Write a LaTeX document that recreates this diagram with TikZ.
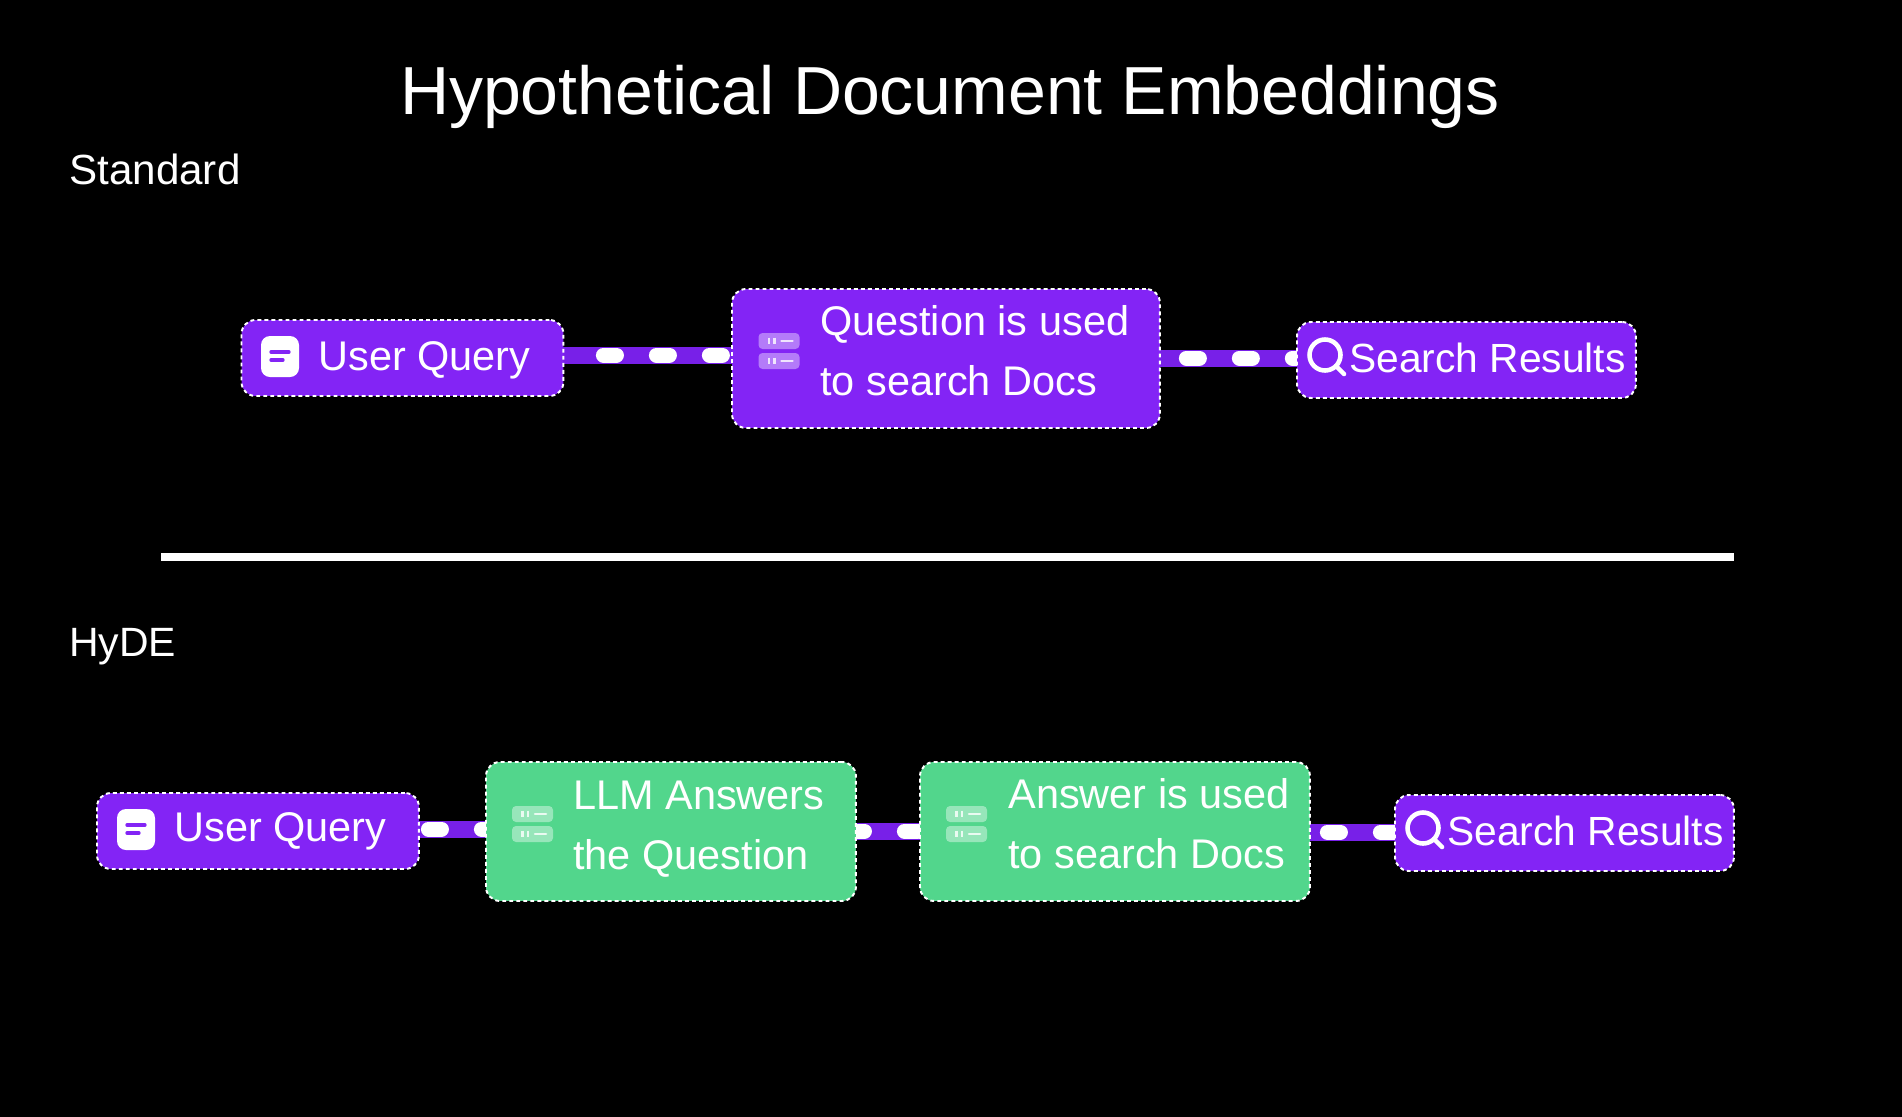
\documentclass[tikz,border=0pt]{standalone}
\usepackage{fontspec}
\setmainfont{Liberation Sans}
\definecolor{hydepurple}{RGB}{131,36,245}
\definecolor{hydebar}{RGB}{120,32,232}
\definecolor{hydegreen}{RGB}{82,214,140}
\usetikzlibrary{backgrounds,calc}
\tikzset{
  box/.style={draw=white,line width=1.1pt,dash pattern=on 2.2pt off 1.8pt,rounded corners=0.28cm,inner sep=0pt,outer sep=0pt,anchor=north west},
  purplebox/.style={box,fill=hydepurple},
  greenbox/.style={box,fill=hydegreen},
  boxtext/.style={text=white,anchor=west,align=left,inner sep=0pt,font=\fontsize{23.6}{34}\selectfont},
  headtext/.style={text=white,anchor=west,inner sep=0pt,font=\fontsize{24}{28}\selectfont},
  flowbar/.style={draw=hydebar,line width=9.67pt},
  flowdash/.style={draw=white,line width=8.54pt,line cap=round,dash pattern=on 7.4pt off 22.76pt},
  pics/docicon/.style={code={
    \fill[white,rounded corners=0.18cm] (0,0) rectangle (38,41);
    \draw[hydepurple,line width=1.9pt,line cap=round] (10,16) -- (28,16);
    \draw[hydepurple,line width=1.9pt,line cap=round] (10,24) -- (22,24);
  }},
  pics/srvicon/.style={code={
    \foreach \yy in {0,20}{
      \fill[white,opacity=0.4,rounded corners=0.08cm] (0,\yy) rectangle (41,\yy+16);
      \draw[white,opacity=0.8,line width=1.5pt] (10.5,\yy+4.5) -- (10.5,\yy+11) (16,\yy+4.5) -- (16,\yy+11);
      \draw[white,opacity=0.8,line width=1.5pt,line cap=round] (23,\yy+8) -- (34,\yy+8);
    }
  }},
  pics/lensicon/.style={code={
    \draw[white,line width=2.6pt] (0,0) circle (0.31cm);
    \draw[white,line width=2.6pt,line cap=round] (11,11) -- (19,19);
  }},
}

\begin{document}
\begin{tikzpicture}[x=0.02cm,y=-0.02cm]
  \useasboundingbox (0,0) rectangle (1902,1116);
  % titles
  \node[text=white,inner sep=0pt,font=\fontsize{38.7}{48}\selectfont] (title) at (950,97) {Hypothetical Document Embeddings};
  \node[headtext] (standard) at (69,169) {Standard};
  \node[headtext,font=\fontsize{23.3}{28}\selectfont] (hyde) at (69,647) {HyDE};
  % standard row
  \node[purplebox,minimum width=6.44cm,minimum height=1.52cm] (query) at (241.5,320) {};
  \node[purplebox,minimum width=8.56cm,minimum height=2.78cm] (docs) at (732,289) {};
  \node[purplebox,minimum width=6.78cm,minimum height=1.52cm] (results) at (1297,322) {};
  \node[boxtext] (querytext) at (318,360) {User Query};
  \node[boxtext] (docstext) at (820,351) {Question is used\\to search Docs};
  \node[boxtext,font=\fontsize{23.2}{34}\selectfont] (resultstext) at (1349,358) {Search Results};
  \pic at (261,336) {docicon};
  \pic at (758.5,333) {srvicon};
  \pic at (1325,355) {lensicon};
  % divider
  \coordinate (divl) at (161,557);
  \coordinate (divr) at (1734,557);
  \draw[white,line width=4pt] (divl) -- (divr);
  % hyde row
  \node[purplebox,minimum width=6.44cm,minimum height=1.52cm] (hquery) at (97,793) {};
  \node[greenbox,minimum width=7.4cm,minimum height=2.78cm] (answer) at (486,762) {};
  \node[greenbox,minimum width=7.8cm,minimum height=2.78cm] (hdocs) at (920,762) {};
  \node[purplebox,minimum width=6.78cm,minimum height=1.52cm] (hresults) at (1395,795) {};
  \node[boxtext] (hquerytext) at (174,831) {User Query};
  \node[boxtext] (answertext) at (573,829) {LLM Answers\\the Question};
  \node[boxtext] (hdocstext) at (1008,824) {Answer is used\\to search Docs};
  \node[boxtext,font=\fontsize{23.2}{34}\selectfont] (hresultstext) at (1447,831) {Search Results};
  \pic at (117,809) {docicon};
  \pic at (512,806) {srvicon};
  \pic at (946,806) {srvicon};
  \pic at (1423,828) {lensicon};
  % connectors
  \begin{scope}[on background layer]
    \fill[black] (-10,-10) rectangle (1912,1126);
    \foreach \a/\b/\yy/\ph in {query/docs/355/7.4,docs/results/358/15.1,hquery/answer/829/24.75,answer/hdocs/831/2.56,hdocs/hresults/832/20.2}{
      \draw[flowbar] (\a.east |- 0,\yy) -- (\b.west |- 0,\yy);
      \draw[flowdash,dash phase=\ph pt] (\a.east |- 0,\yy) -- (\b.west |- 0,\yy);
    }
  \end{scope}
\end{tikzpicture}
\end{document}
